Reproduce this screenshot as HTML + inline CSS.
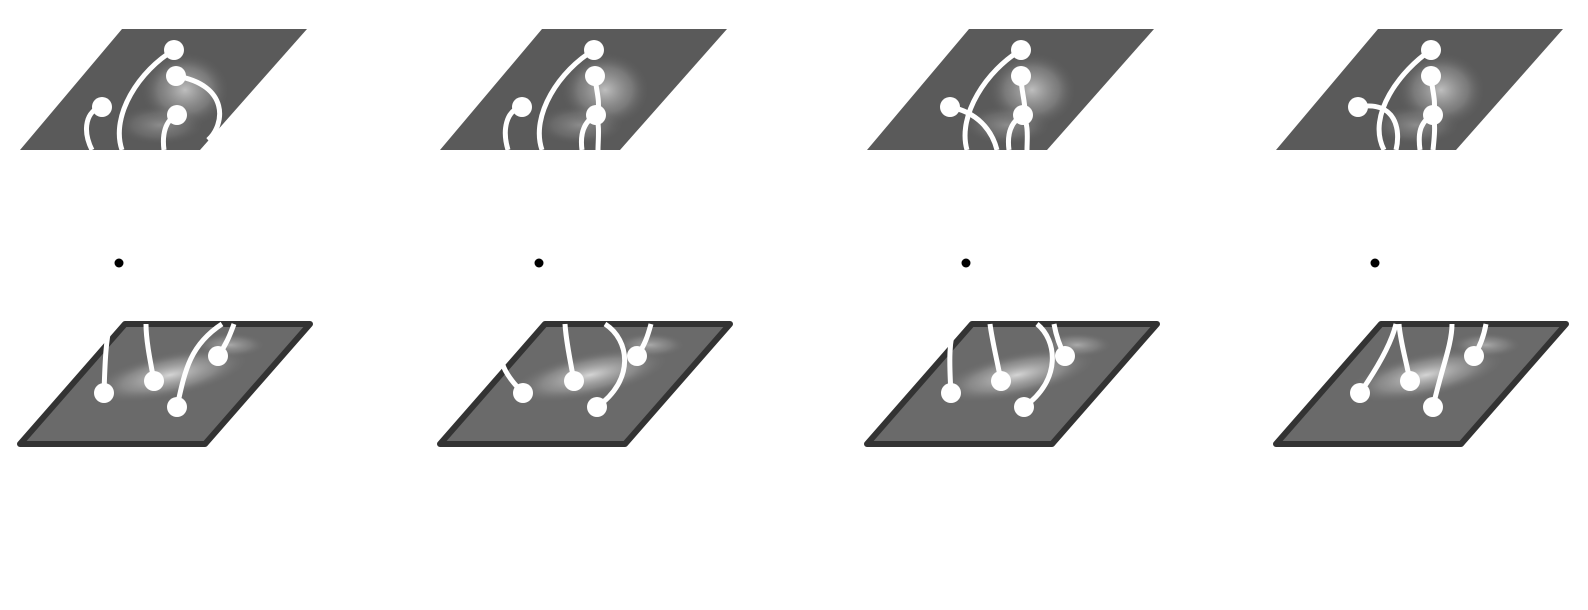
<!DOCTYPE html>
<html><head><meta charset="utf-8">
<style>
html,body{margin:0;padding:0;background:#fff;width:1588px;height:610px;overflow:hidden}
svg{display:block}
</style></head>
<body>
<svg id="fig" width="1588" height="610" viewBox="0 0 1588 610" xmlns="http://www.w3.org/2000/svg">
<defs>
<radialGradient id="blobTop" cx="0.5" cy="0.5" r="0.5">
<stop offset="0" stop-color="#d0d0d0" stop-opacity="0.85"/>
<stop offset="0.6" stop-color="#9a9a9a" stop-opacity="0.5"/>
<stop offset="1" stop-color="#5a5a5a" stop-opacity="0"/>
</radialGradient>
<radialGradient id="blobBot" cx="0.5" cy="0.5" r="0.5">
<stop offset="0" stop-color="#e0e0e0" stop-opacity="0.9"/>
<stop offset="0.6" stop-color="#a8a8a8" stop-opacity="0.5"/>
<stop offset="1" stop-color="#707070" stop-opacity="0"/>
</radialGradient>
</defs>
</svg>
<script>
const panelOffsets = [0, 420, 847, 1256];
const topDots = [
 [[174,50],[176,76],[102,107],[177,115]],
 [[174,50],[175,76],[102,107],[176,115]],
 [[174,50],[174,76],[103,107],[176,115]],
 [[175,50],[175,76],[102,107],[177,115]]
];
const botDots = [
 [[104,393],[154,381],[177,407],[218,356]],
 [[103,393],[154,381],[177,407],[217,356]],
 [[104,393],[154,381],[177,407],[218,356]],
 [[104,393],[154,381],[177,407],[218,356]]
];
const topCurves = [
 [[2,86,110,82,130,92,150],[0,140,70,110,115,122,150],[1,230,85,225,125,208,140],[3,165,120,162,135,164,150]],
 [[2,86,110,82,130,88,150],[0,140,70,110,115,122,150],[1,176,90,180,100,178,112],[3,163,122,160,135,162,150],[3,180,125,178,140,178,150]],
 [[2,130,112,145,130,150,150],[0,140,70,110,115,120,150],[1,174,90,178,100,178,112],[3,163,122,160,135,162,150],[3,182,125,180,140,180,150]],
 [[2,140,100,145,130,140,150],[0,145,70,110,115,128,150],[1,176,90,180,100,178,112],[3,163,122,162,135,164,150],[3,180,125,178,140,177,150]]
];
const botCurves = [
 [[0,105,360,106,340,110,324],[1,150,360,146,340,146,324],[2,185,370,190,345,222,324],[3,226,345,230,335,234,324]],
 [[0,90,380,84,370,82,362],[1,150,360,146,340,145,324],[2,215,380,210,340,185,324],[3,225,345,228,335,231,324]],
 [[0,102,360,102,340,108,324],[1,150,360,145,340,143,324],[2,215,380,210,340,190,324],[3,212,345,209,335,207,324]],
 [[0,120,370,135,345,140,324],[1,150,360,144,340,143,324],[2,185,370,196,345,196,324],[3,225,345,228,335,230,324]]
];
const NS='http://www.w3.org/2000/svg';
const svg=document.getElementById('fig');
function mk(tag,attrs,parent){const e=document.createElementNS(NS,tag);for(const k in attrs)e.setAttribute(k,attrs[k]);(parent||svg).appendChild(e);return e;}
panelOffsets.forEach((ox,p)=>{
 const g=mk('g',{transform:'translate('+ox+',0)'});
 
 
 const clipT=mk('clipPath',{id:'ct'+p},g);
 mk('polygon',{points:'122,29 307,29 200,150 20,150'},clipT);
 const tp=mk('polygon',{points:'122,29 307,29 200,150 20,150',fill:'#5a5a5a'},g);
 
 
 const tg=mk('g',{'clip-path':'url(#ct'+p+')'},g);
 mk('ellipse',{cx:185,cy:90,rx:45,ry:38,fill:'url(#blobTop)'},tg);
 mk('ellipse',{cx:160,cy:125,rx:45,ry:20,fill:'url(#blobTop)',opacity:0.5},tg);
 const bp=mk('polygon',{points:'125,324 310,324 205,444 20,444',fill:'#6a6a6a',stroke:'#333','stroke-width':6,'stroke-linejoin':'round'},g);
 
 
 const clipB=mk('clipPath',{id:'cb'+p},g);
 mk('polygon',{points:'125,324 310,324 205,444 20,444'},clipB);
 const bg=mk('g',{'clip-path':'url(#cb'+p+')'},g);
 mk('ellipse',{cx:170,cy:375,rx:80,ry:22,fill:'url(#blobBot)',transform:'rotate(-12 170 375)'},bg);
 mk('ellipse',{cx:230,cy:345,rx:35,ry:12,fill:'url(#blobBot)',opacity:0.6},bg);
 topCurves[p].forEach(c=>{const d=topDots[p][c[0]];
  const path=mk('path',{d:`M${d[0]},${d[1]} C${c[1]},${c[2]} ${c[3]},${c[4]} ${c[5]},${c[6]}`,fill:'none',stroke:'#fff','stroke-width':5,'stroke-linecap':'butt'},g);
  
  });
 botCurves[p].forEach(c=>{const d=botDots[p][c[0]];
  const path=mk('path',{d:`M${d[0]},${d[1]} C${c[1]},${c[2]} ${c[3]},${c[4]} ${c[5]},${c[6]}`,fill:'none',stroke:'#fff','stroke-width':5,'stroke-linecap':'butt'},g);
  
  });
 topDots[p].forEach(d=>{const c=mk('circle',{cx:d[0],cy:d[1],r:10,fill:'#fff'},g);
  
  });
 botDots[p].forEach(d=>{const c=mk('circle',{cx:d[0],cy:d[1],r:10,fill:'#fff'},g);
  
  });
 const cd=mk('circle',{cx:119,cy:263,r:4.5,fill:'#000'},g);
 
 
});
</script>
</body></html>
